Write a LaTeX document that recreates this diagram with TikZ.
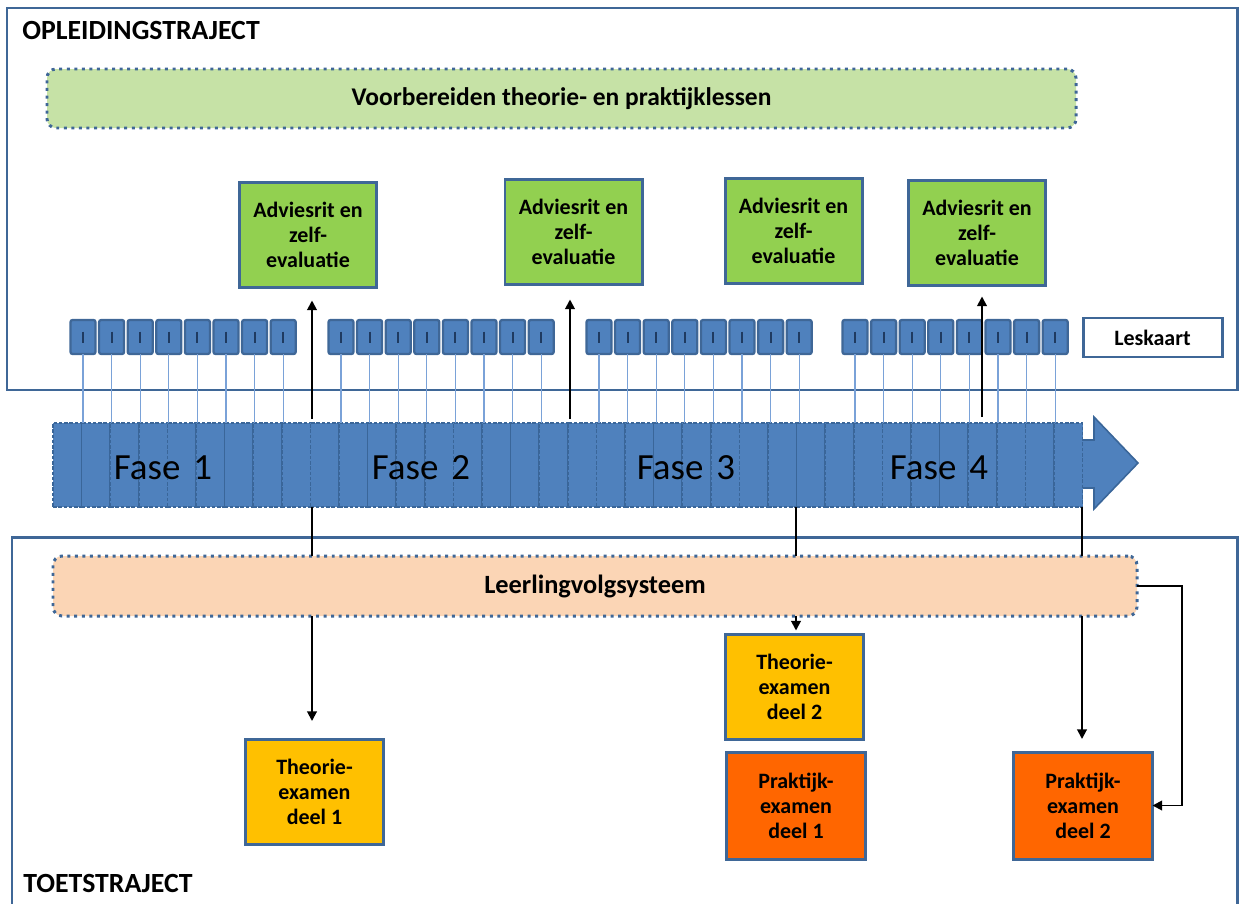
\documentclass[tikz,border=0pt]{standalone}
\usepackage{fontspec}
\setmainfont{Carlito}
\usetikzlibrary{arrows.meta,calc}
\definecolor{framec}{HTML}{3F6797}
\definecolor{barfill}{HTML}{4F81BD}
\definecolor{cellline}{HTML}{3A6699}
\definecolor{thinblue}{HTML}{7AA2D8}
\definecolor{tickc}{HTML}{1F3A60}
\definecolor{lightgreen}{HTML}{C6E2A6}
\definecolor{peach}{HTML}{FBD5B5}
\definecolor{advgreen}{HTML}{92D050}
\definecolor{examyellow}{HTML}{FFC000}
\definecolor{examorange}{HTML}{FF6600}
\newcommand\upx{0.02cm}
\begin{document}
\begin{tikzpicture}[x=0.02cm,y=-0.02cm,
  framel/.style={draw=framec,line width=1.7pt},
  titletext/.style={anchor=base west,inner sep=0pt,font=\bfseries\fontsize{15.8}{18}\selectfont},
  dotbox/.style={draw=framec,line width=1.7pt,dash pattern=on 1.7pt off 2.6pt,rounded corners=9*\upx,inner sep=0pt,outer sep=0pt},
  exbox/.style={draw=framec,line width=1.7pt,inner sep=0pt,outer sep=0pt,align=center,font=\bfseries\fontsize{12.5}{14.2}\selectfont},
  advbox/.style={exbox,fill=advgreen,minimum width=137*\upx,minimum height=105*\upx},
  thbox/.style={exbox,fill=examyellow,minimum width=138*\upx,minimum height=105*\upx},
  prbox/.style={exbox,fill=examorange,minimum width=139*\upx,minimum height=107*\upx},
  cellbox/.style={fill=barfill,draw=cellline,line width=0.9pt,dash pattern=on 2pt off 1pt,minimum width=28.6*\upx,minimum height=84*\upx,inner sep=0pt,outer sep=0pt},
  lbox/.style={fill=barfill,draw=framec,line width=1.3pt,rounded corners=1.2pt,minimum width=25*\upx,minimum height=34*\upx,inner sep=0pt,outer sep=0pt},
  tickl/.style={draw=tickc,line width=1.2pt},
  lline/.style={draw=thinblue,line width=0.6pt},
  conn/.style={draw=black,line width=1.1pt},
  arr/.style={conn,-{Triangle[width=5.5pt,length=5.5pt]}},
  fasetext/.style={inner sep=0pt,font=\fontsize{21}{24}\selectfont}]
\useasboundingbox (0,0) rectangle (1241,903);

% frames
\draw[framel] (7,8) rectangle (1237,390);
\draw[framel] (12,910) -- (12,537) -- (1237,537) -- (1237,910);
\node[titletext] (t1) at (22,39) {OPLEIDINGSTRAJECT};
\node[titletext] (t2) at (23,892) {TOETSTRAJECT};

% top dotted box
\node[dotbox,fill=lightgreen,minimum width=1029*\upx,minimum height=59*\upx,font=\bfseries\fontsize{14.5}{17}\selectfont] (prep) at (561.5,98.5) {Voorbereiden theorie- en praktijklessen};

% adviesrit boxes
\node[advbox] (a1) at (308,235) {Adviesrit en\\zelf-\\evaluatie};
\node[advbox] (a2) at (573.5,232) {Adviesrit en\\zelf-\\evaluatie};
\node[advbox] (a3) at (793.5,231) {Adviesrit en\\zelf-\\evaluatie};
\node[advbox] (a4) at (977,233) {Adviesrit en\\zelf-\\evaluatie};

% leskaart
\node[exbox,fill=white,minimum width=139*\upx,minimum height=39*\upx] (lk) at (1152.5,337.5) {Leskaart};

% big arrow behind the bar
\draw[fill=barfill,draw=cellline,line width=0.9pt,line join=miter] (1060,440) -- (1094,440) -- (1094,417) -- (1138,463) -- (1094,509) -- (1094,488) -- (1060,488) -- cycle;

% bar cells
\foreach \i in {1,...,36}{
  \node[cellbox] (c\i) at ({53+28.6*(\i-0.5)},465) {};
}
\node[fasetext] (f1) at (163,468) {Fase\hspace{0.35em}1};
\node[fasetext] (f2) at (421,468) {Fase\hspace{0.35em}2};
\node[fasetext] (f3) at (686,468) {Fase\hspace{0.35em}3};
\node[fasetext] (f4) at (939,468) {Fase\hspace{0.35em}4};

% lesson boxes
\foreach \g/\s in {1/83,2/341,3/599,4/855}{
  \foreach \k in {0,...,7}{
    \node[lbox] (l\g\k) at ({\s+28.6*\k},337) {};
    \draw[tickl] (l\g\k.center) +(0,-5.5) -- +(0,5.5);
    \draw[lline] (l\g\k.south) -- (l\g\k.south |- c1.north);
  }
}

% up arrows
\coordinate (u1) at (312,419);
\coordinate (u2) at (570,419);
\coordinate (u4) at (982,417);
\draw[arr,shorten >=13*\upx] (u1) -- (u1 |- a1.south);
\draw[arr,shorten >=15*\upx] (u2) -- (u2 |- a2.south);
\draw[arr,shorten >=11*\upx] (u4) -- (u4 |- a4.south);

% bottom part
\node[dotbox,fill=peach,minimum width=1084*\upx,minimum height=60*\upx,font=\bfseries\fontsize{15}{17}\selectfont] (lvs) at (595,586) {Leerlingvolgsysteem};
\node[thbox] (th1) at (314.5,791.5) {Theorie-\\examen\\deel 1};
\node[thbox] (th2) at (794.5,687) {Theorie-\\examen\\deel 2};
\node[prbox] (pr1) at (796,805.5) {Praktijk-\\examen\\deel 1};
\node[prbox] (pr2) at (1083,805.5) {Praktijk-\\examen\\deel 2};

\coordinate (d1) at (312,507);
\coordinate (d2) at (796,507);
\coordinate (d3) at (1082,507);
\draw[conn] (d1) -- (d1 |- lvs.north);
\draw[conn] (d2) -- (d2 |- lvs.north);
\draw[conn] (d3) -- (d3 |- lvs.north);
\draw[arr,shorten >=18*\upx] (d1 |- lvs.south) -- (d1 |- th1.north);
\draw[arr,shorten >=4*\upx] (d2 |- lvs.south) -- (d2 |- th2.north);
\draw[arr,shorten >=13*\upx] (d3 |- lvs.south) -- (d3 |- pr2.north);
\draw[arr] (lvs.east) -- ++(45,0) |- (pr2.east);
\end{tikzpicture}
\end{document}
